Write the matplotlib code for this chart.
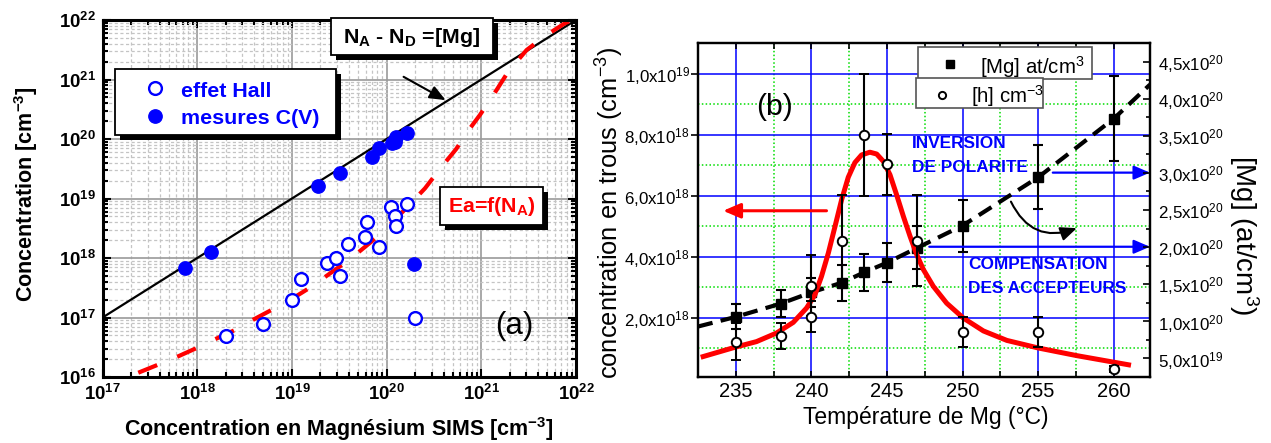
import numpy as np
import matplotlib
matplotlib.use("Agg")
import matplotlib.pyplot as plt
import matplotlib.transforms as mtransforms
from matplotlib.patches import Rectangle
from matplotlib.lines import Line2D
from matplotlib.ticker import LogLocator, NullFormatter

plt.rcParams['font.family'] = ['Liberation Sans', 'DejaVu Sans']
plt.rcParams['mathtext.fontset'] = 'custom'
plt.rcParams['mathtext.rm'] = 'Liberation Sans'
plt.rcParams['mathtext.it'] = 'Liberation Sans:italic'
plt.rcParams['mathtext.bf'] = 'Liberation Sans:bold'
plt.rcParams['mathtext.sf'] = 'Liberation Sans'

# ---------------- panel (a) data ----------------
hall_mg = [2.0e18, 4.9e18, 1.0e19, 1.24e19, 2.35e19, 2.92e19, 3.23e19, 3.93e19,
           5.97e19, 6.13e19, 8.28e19, 1.11e20, 1.23e20, 1.26e20, 1.63e20, 1.97e20]
hall_conc = [4.9e16, 7.8e16, 1.97e17, 4.5e17, 8.15e17, 1.01e18, 4.98e17, 1.72e18,
             2.28e18, 4.03e18, 1.51e18, 7.1e18, 5.1e18, 3.45e18, 8.0e18, 9.9e16]
cv_mg = [7.4e17, 1.38e18, 1.87e19, 3.2e19, 6.95e19, 8.36e19, 1.13e20, 1.22e20,
         1.25e20, 1.65e20, 1.95e20]
cv_conc = [6.7e17, 1.24e18, 1.62e19, 2.65e19, 5.04e19, 7.1e19, 8.5e19, 9.0e19,
           1.07e20, 1.28e20, 7.9e17]
ideal_mg = [1e17, 1e22]
ideal_conc = [1e17, 1e22]
ea_mg = [2.38e17, 3.78e17, 6.15e17, 9.68e17, 1.54e18, 2.50e18, 3.97e18, 6.25e18,
         1.02e19, 1.61e19, 2.62e19, 4.09e19, 6.78e19, 1.04e20, 1.69e20, 2.54e20,
         3.81e20, 5.40e20, 7.59e20, 9.66e20, 1.45e21, 1.92e21, 3.01e21, 4.70e21,
         7.64e21, 1.0e22]
ea_conc = [1.18e16, 1.59e16, 2.19e16, 3.03e16, 4.31e16, 6.17e16, 9.33e16, 1.37e17,
           2.10e17, 3.30e17, 5.75e17, 9.51e17, 1.84e18, 3.36e18, 7.48e18, 1.48e19,
           3.42e19, 6.71e19, 1.51e20, 2.53e20, 6.67e20, 1.35e21, 3.13e21, 5.38e21,
           8.81e21, 1.07e22]
a_xticks = [1e17, 1e18, 1e19, 1e20, 1e21, 1e22]
a_xtick_labels = [r'10$^{\mathbf{17}}$', r'10$^{\mathbf{18}}$', r'10$^{\mathbf{19}}$',
                  r'10$^{\mathbf{20}}$', r'10$^{\mathbf{21}}$', r'10$^{\mathbf{22}}$']
a_yticks = [1e16, 1e17, 1e18, 1e19, 1e20, 1e21, 1e22]
a_ytick_labels = [r'10$^{\mathbf{16}}$', r'10$^{\mathbf{17}}$', r'10$^{\mathbf{18}}$',
                  r'10$^{\mathbf{19}}$', r'10$^{\mathbf{20}}$', r'10$^{\mathbf{21}}$',
                  r'10$^{\mathbf{22}}$']

# ---------------- panel (b) data ----------------
temp_mg = [235, 238, 240, 242, 243.5, 245, 247, 250, 255, 260]
mg_conc = [1.06e20, 1.24e20, 1.39e20, 1.52e20, 1.66e20, 1.79e20, 1.99e20, 2.29e20,
           2.94e20, 3.73e20]
mg_err = [0.17e20, 0.18e20, 0.20e20, 0.24e20, 0.25e20, 0.26e20, 0.29e20, 0.35e20,
          0.43e20, 0.57e20]
temp_h = [235, 238, 240, 240, 242, 243.5, 245, 247, 250, 255, 260]
h_conc = [1.21e18, 1.40e18, 3.04e18, 2.03e18, 4.52e18, 8.0e18, 7.03e18, 4.52e18,
          1.52e18, 1.52e18, 0.32e18]
h_err = [0.6e18, 0.43e18, 1.0e18, 0.5e18, 1.5e18, 2.0e18, 1.0e18, 1.5e18, 0.5e18,
         0.5e18, 0.1e18]
fit_T = [232.84, 234.98, 236.37, 237.69, 238.80, 239.68, 240.23, 240.67, 241.12,
         241.56, 242.00, 242.44, 242.88, 243.32, 243.87, 244.32, 244.76, 245.20,
         245.64, 246.09, 246.53, 246.97, 247.41, 248.07, 248.95, 250.06, 251.38,
         252.93, 255.02, 257.56, 260.98]
fit_h = [0.72e18, 1.03e18, 1.21e18, 1.49e18, 1.84e18, 2.31e18, 2.74e18, 3.35e18,
         4.11e18, 4.98e18, 5.86e18, 6.60e18, 7.08e18, 7.33e18, 7.42e18, 7.36e18,
         7.12e18, 6.68e18, 6.02e18, 5.31e18, 4.66e18, 4.06e18, 3.57e18, 3.02e18,
         2.47e18, 1.98e18, 1.56e18, 1.25e18, 1.00e18, 0.75e18, 0.45e18]
mg_fit_T = [232.5, 235, 238, 240, 242, 243.5, 245, 247, 250, 255, 260, 262.4]
mg_fit = [0.93e20, 1.06e20, 1.24e20, 1.39e20, 1.52e20, 1.66e20, 1.79e20, 1.99e20,
          2.29e20, 2.94e20, 3.73e20, 4.19e20]
b_xticks = [235, 240, 245, 250, 255, 260]
b_xminor = [237.5, 242.5, 247.5, 252.5, 257.5]
h_ticks = [2e18, 4e18, 6e18, 8e18, 1e19]
h_tick_labels = [r'2,0x10$^{18}$', r'4,0x10$^{18}$', r'6,0x10$^{18}$',
                 r'8,0x10$^{18}$', r'1,0x10$^{19}$']
h_minor = [1e18, 3e18, 5e18, 7e18, 9e18]
mg_ticks = [5e19, 1e20, 1.5e20, 2e20, 2.5e20, 3e20, 3.5e20, 4e20, 4.5e20]
mg_tick_labels = [r'5,0x10$^{19}$', r'1,0x10$^{20}$', r'1,5x10$^{20}$',
                  r'2,0x10$^{20}$', r'2,5x10$^{20}$', r'3,0x10$^{20}$',
                  r'3,5x10$^{20}$', r'4,0x10$^{20}$', r'4,5x10$^{20}$']
mg_minor = [7.5e19, 1.25e20, 1.75e20, 2.25e20, 2.75e20, 3.25e20, 3.75e20, 4.25e20]

W, H = 1271, 443
fig = plt.figure(figsize=(W / 100, H / 100), dpi=100)
fig.patch.set_facecolor('white')
px = mtransforms.Affine2D().scale(1.0 / W, -1.0 / H).translate(0, 1) + fig.transFigure


def fig_rect(x0, y0, x1, y1):
    return [x0 / W, 1 - y1 / H, (x1 - x0) / W, (y1 - y0) / H]


def shadow_box(x, y, w, h, off=5, edge='black', lw=1.3, shadow=True):
    if shadow:
        fig.add_artist(Rectangle((x + off, y + off), w, h, transform=px,
                                 facecolor='black', edgecolor='black', lw=0, zorder=5))
    fig.add_artist(Rectangle((x, y), w, h, transform=px, facecolor='white',
                             edgecolor=edge, lw=lw, zorder=6))


BLUE = '#0000ff'
RED = '#ff0000'

# ================= panel (a) =================
ax1 = fig.add_axes(fig_rect(102.6, 20, 576, 377))
ax1.set_xscale('log')
ax1.set_yscale('log')
ax1.set_axisbelow(True)
ax1.plot(ideal_mg, ideal_conc, color='black', lw=1.6, zorder=2)
ax1.plot(ea_mg, ea_conc, color=RED, lw=3.0, dashes=(4.9, 5.2), zorder=2.5)
ax1.plot(hall_mg, hall_conc, ls='none', marker='o', ms=9.2, mfc='white',
         mec=BLUE, mew=1.7, zorder=3)
ax1.plot(cv_mg, cv_conc, ls='none', marker='o', ms=9.6, mfc=BLUE, mec=BLUE, zorder=3)
ax1.set_xlim(1e17, 1e22)
ax1.set_ylim(1e16, 1e22)
ax1.grid(True, which='major', color='#9a9a9a', lw=1.2, ls='-')
ax1.grid(True, which='minor', color='#c4c4c4', lw=0.9, ls=(0, (2.5, 2)))
ax1.set_xticks(a_xticks, a_xtick_labels, fontweight='bold')
ax1.set_yticks(a_yticks, a_ytick_labels, fontweight='bold')
for axis in (ax1.xaxis, ax1.yaxis):
    axis.set_minor_locator(LogLocator(base=10, subs=np.arange(2, 10), numticks=100))
    axis.set_minor_formatter(NullFormatter())
ax1.tick_params(which='both', direction='in', top=True, right=True, width=1.5)
ax1.tick_params(which='major', length=6, labelsize=13.4, pad=5)
ax1.tick_params(which='minor', length=3.5)
for s in ax1.spines.values():
    s.set_linewidth(2.2)
ax1.set_xlabel(r'Concentration en Magnésium SIMS [cm$^{\mathbf{-3}}$]',
               fontsize=15.5, fontweight='bold')
ax1.xaxis.label.set_va('baseline')
ax1.xaxis.set_label_coords(0.5, -0.166)
ax1.set_ylabel(r'Concentration [cm$^{\mathbf{-3}}$]', fontsize=15.5, fontweight='bold')
ax1.yaxis.label.set_va('baseline')
ax1.yaxis.set_label_coords(-0.148, 0.5126)
ax1.text(0.830, 0.1218, '(a)', transform=ax1.transAxes, fontsize=22.5,
         ha='left', va='baseline')
ax1.annotate('', xy=(4.2e20, 4.5e20), xytext=(1.51e20, 1.11e21),
             arrowprops=dict(arrowstyle='-|>,head_length=0.6,head_width=0.25',
                             color='black', lw=1.5, shrinkA=0, shrinkB=0,
                             mutation_scale=16))

# legend box (a)
shadow_box(114.8, 69.3, 221, 65.7)
fig.add_artist(Line2D([155], [88.3], transform=px, ls='none', marker='o', ms=9.2,
                      mfc='white', mec=BLUE, mew=1.7, zorder=7))
fig.add_artist(Line2D([155], [116], transform=px, ls='none', marker='o', ms=9.6,
                      mfc=BLUE, mec=BLUE, zorder=7))
fig.text(180.6, 96.7, 'effet Hall', transform=px, color=BLUE, fontsize=15.4,
         fontweight='bold', ha='left', va='baseline', zorder=7)
fig.text(180.6, 124.5, 'mesures C(V)', transform=px, color=BLUE, fontsize=15.4,
         fontweight='bold', ha='left', va='baseline', zorder=7)

# text boxes (a)
shadow_box(331, 18, 161.5, 37)
fig.text(411.75, 37.5, r'N$_{\mathbf{A}}$ - N$_{\mathbf{D}}$ =[Mg]', transform=px,
         fontsize=15.4, fontweight='bold', ha='center', va='center', zorder=7)
shadow_box(440, 186.7, 103.4, 38.3)
fig.text(492, 206.5, r'Ea=f(N$_{\mathbf{A}}$)', transform=px, color=RED,
         fontsize=15.4, fontweight='bold', ha='center', va='center', zorder=7)

# ================= panel (b) =================
ax2 = fig.add_axes(fig_rect(698, 43, 1150, 377))
ax3 = ax2.twinx()
ax2.set_axisbelow(True)
mg_tr = ax3.transData
ax2.plot(mg_fit_T, mg_fit, color='black', lw=3.0, dashes=(3.6, 2.0),
         transform=mg_tr, zorder=2)
ax2.errorbar(temp_mg, mg_conc, yerr=mg_err, fmt='s', color='black', ms=6.8,
             capsize=3.5, elinewidth=1.5, capthick=1.5, transform=mg_tr, zorder=3)
ax2.plot(fit_T, fit_h, color=RED, lw=3.6, zorder=4)
ax2.errorbar(temp_h, h_conc, yerr=h_err, fmt='o', color='black', mfc='white',
             mec='black', ms=6.8, mew=1.4, capsize=3.5, elinewidth=1.5,
             capthick=1.5, zorder=5)
ax2.set_xlim(232.5, 262.4)
ax2.set_ylim(0.05e18, 1.1e19)
ax3.set_ylim(0.25e20, 4.75e20)

ax2.grid(True, which='major', color=BLUE, lw=1.1)
ax2.grid(True, which='minor', color='#00dd00', lw=1.1, ls=(0, (1, 1.5)))
ax2.set_xticks(b_xticks)
ax2.set_xticks(b_xminor, minor=True)
ax2.set_yticks(h_ticks, h_tick_labels)
ax2.set_yticks(h_minor, minor=True)
ax3.set_yticks(mg_ticks, mg_tick_labels)
ax3.set_yticks(mg_minor, minor=True)
ax2.tick_params(axis='x', which='both', direction='in', top=True, length=4.5,
                width=1.2, labelsize=14.5, pad=3.4)
ax2.tick_params(axis='y', which='major', direction='out', length=5, width=1.2,
                labelsize=12.2, pad=0.8)
ax2.tick_params(axis='y', which='minor', left=False)
ax3.tick_params(axis='y', which='both', direction='in', width=1.2, labelsize=12.2, pad=6)
ax3.tick_params(axis='y', which='major', length=5)
ax3.tick_params(axis='y', which='minor', length=3)
for a in (ax2, ax3):
    for s in a.spines.values():
        s.set_linewidth(1.6)

ax2.set_xlabel('Température de Mg (°C)', fontsize=16.5)
ax2.xaxis.label.set_va('baseline')
ax2.xaxis.set_label_coords(0.504, -0.1416)
ax2.set_ylabel(r'concentration en trous (cm$^{-3}$)', fontsize=18.4)
ax2.yaxis.label.set_va('baseline')
ax2.yaxis.set_label_coords(-0.175, 0.491)
ax3.set_ylabel(r'[Mg] (at/cm$^{3}$)', fontsize=20, rotation=270)
ax3.yaxis.label.set_va('baseline')
ax3.yaxis.set_label_coords(1.188, 0.425)

ax2.text(236.32, 8.63e18, '(b)', fontsize=21.7, ha='left', va='baseline')
ax2.text(246.64, 6.78e18, 'INVERSION\nDE POLARITE', color=BLUE, fontsize=12.4,
         fontweight='bold', ha='left', va='baseline', linespacing=1.75, zorder=6)
ax2.text(250.38, 2.80e18, 'COMPENSATION\nDES ACCEPTEURS', color=BLUE, fontsize=12.4,
         fontweight='bold', ha='left', va='baseline', linespacing=1.75, zorder=6)

ax2.annotate('', xy=(234.16, 5.5e18), xytext=(241.0, 5.5e18),
             arrowprops=dict(arrowstyle='-|>,head_length=0.7,head_width=0.3',
                             color=RED, lw=2.2, shrinkA=0, shrinkB=0, mutation_scale=15))
ax2.annotate('', xy=(1.0, 6.75e18), xycoords=('axes fraction', 'data'),
             xytext=(255.97, 6.75e18), textcoords='data',
             arrowprops=dict(arrowstyle='-|>,head_length=0.7,head_width=0.3',
                             color=BLUE, lw=1.6, shrinkA=0, shrinkB=0, mutation_scale=14))
ax2.annotate('', xy=(1.0, 4.32e18), xycoords=('axes fraction', 'data'),
             xytext=(247.8, 4.32e18), textcoords='data',
             arrowprops=dict(arrowstyle='-|>,head_length=0.7,head_width=0.3',
                             color=BLUE, lw=1.6, shrinkA=0, shrinkB=0, mutation_scale=14))
ax2.annotate('', xy=(257.56, 4.93e18), xytext=(253.2, 5.8e18),
             arrowprops=dict(arrowstyle='-|>,head_length=0.7,head_width=0.3',
                             color='black', lw=1.5, shrinkA=0, shrinkB=0,
                             mutation_scale=14, connectionstyle='arc3,rad=0.45'))

# legend boxes (b)
shadow_box(917.7, 46.7, 174.3, 32.3, shadow=False, edge='#555555', lw=1.2)
shadow_box(916, 78.3, 127, 30, shadow=False, edge='#555555', lw=1.2)
fig.add_artist(Line2D([950], [64.3], transform=px, ls='none', marker='s', ms=5.4,
                      mfc='black', mec='black', zorder=7))
fig.add_artist(Line2D([941.7], [95], transform=px, ls='none', marker='o', ms=5.2,
                      mfc='white', mec='black', mew=1.4, zorder=7))
fig.text(980, 74.3, r'[Mg] at/cm$^{3}$', transform=px, fontsize=14.7,
         ha='left', va='baseline', zorder=7)
fig.text(970.7, 102.7, r'[h] cm$^{-3}$', transform=px, fontsize=14.7,
         ha='left', va='baseline', zorder=7)

fig.savefig('out.png', dpi=100)
